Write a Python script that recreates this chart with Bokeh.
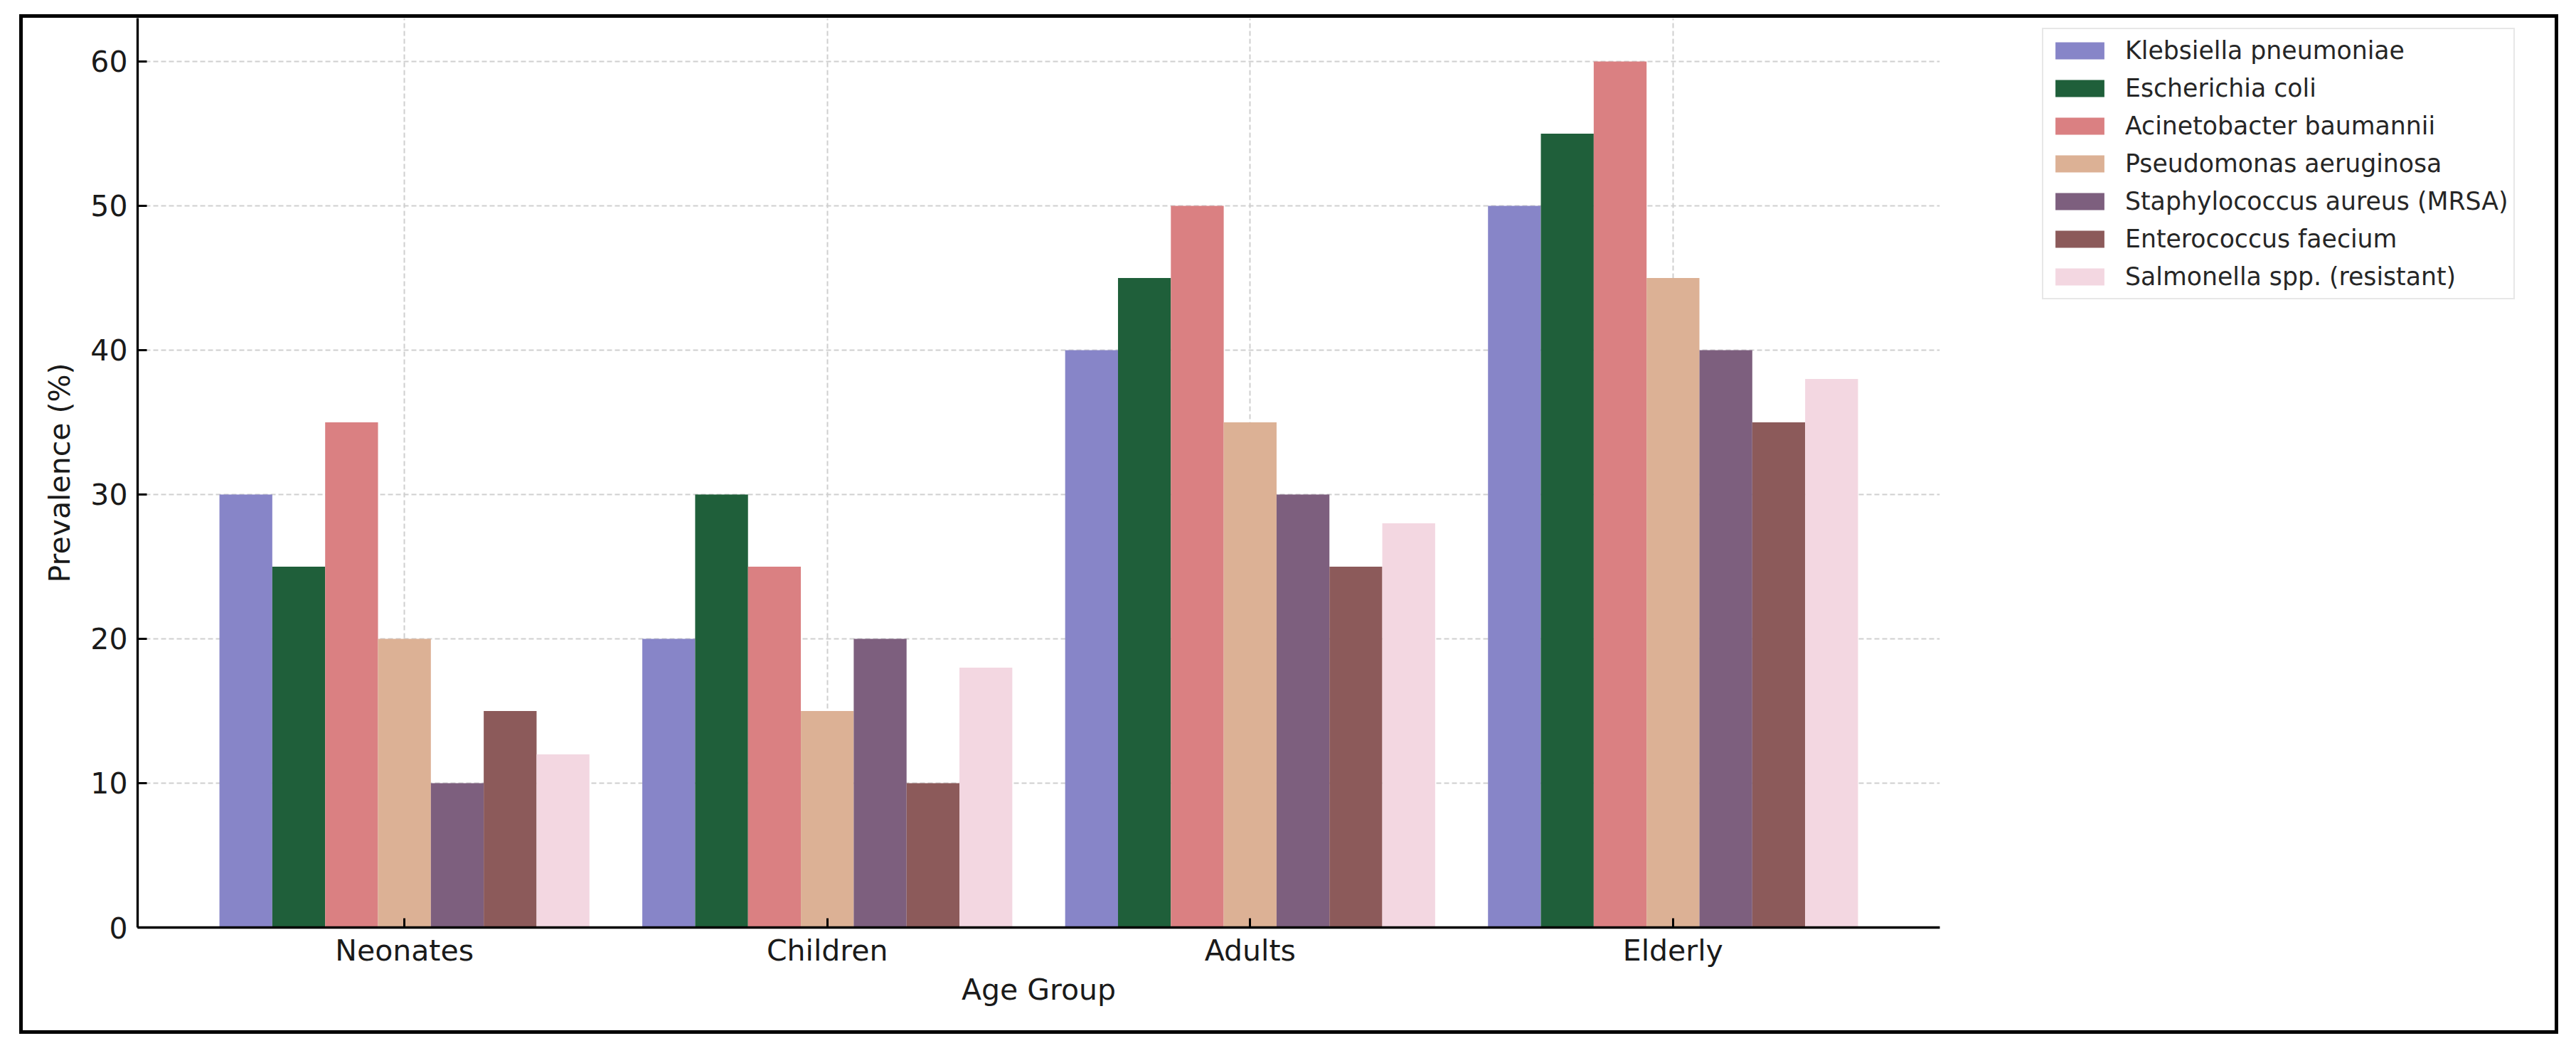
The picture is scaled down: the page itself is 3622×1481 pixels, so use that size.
from bokeh.plotting import figure
from bokeh.models import FactorRange, Range1d, ColumnDataSource, Legend, LegendItem, FixedTicker
from bokeh.transform import dodge
from bokeh.layouts import row
from bokeh.embed import file_html
from bokeh.resources import INLINE

# ---- data ----
age_groups = ["Neonates", "Children", "Adults", "Elderly"]
pathogens = [
    "Klebsiella pneumoniae",
    "Escherichia coli",
    "Acinetobacter baumannii",
    "Pseudomonas aeruginosa",
    "Staphylococcus aureus (MRSA)",
    "Enterococcus faecium",
    "Salmonella spp. (resistant)",
]
klebsiella = [30, 20, 40, 50]
ecoli = [25, 30, 45, 55]
acinetobacter = [35, 25, 50, 60]
pseudomonas = [20, 15, 35, 45]
staph_mrsa = [10, 20, 30, 40]
enterococcus = [15, 10, 25, 35]
salmonella = [12, 18, 28, 38]
y_ticks = [0, 10, 20, 30, 40, 50, 60]

series = [klebsiella, ecoli, acinetobacter, pseudomonas, staph_mrsa, enterococcus, salmonella]
colors = ["#8785c8", "#1f5f3a", "#da8082", "#dcb195", "#7d5f7e", "#8c5a5a", "#f3d7e1"]

FONT = "DejaVu Sans"
bar_width = 0.125

data = {"group": age_groups}
for i, s in enumerate(series):
    data[f"s{i}"] = s
src = ColumnDataSource(data)

x_range = FactorRange(*age_groups, range_padding=0.0655)

# ---- main chart ----
p = figure(
    width=2699, height=1424,
    x_range=x_range,
    y_range=Range1d(0, 63),
    output_backend="svg", toolbar_location=None,
    min_border_left=161, min_border_right=4, min_border_top=0, min_border_bottom=145,
)
p.outline_line_color = None
p.background_fill_color = "white"
p.border_fill_color = "white"

for i, s in enumerate(series):
    p.vbar(
        x=dodge("group", (i - 3) * bar_width, range=x_range),
        top=f"s{i}", width=bar_width, source=src,
        fill_color=colors[i], line_color=None,
    )

for ax in (p.xaxis, p.yaxis):
    ax.axis_line_color = "black"
    ax.axis_line_width = 3.3
    ax.major_tick_line_color = "black"
    ax.major_tick_line_width = 3
    ax.major_tick_in = 13
    ax.major_tick_out = 0
    ax.minor_tick_line_color = None
    ax.major_label_text_font = FONT
    ax.major_label_text_font_size = "41px"
    ax.major_label_text_color = "#1a1a1a"
    ax.axis_label_text_font = FONT
    ax.axis_label_text_font_size = "41px"
    ax.axis_label_text_font_style = "normal"
    ax.axis_label_text_color = "#1a1a1a"

p.xaxis.axis_label = "Age Group"
p.yaxis.axis_label = "Prevalence (%)"
p.yaxis.ticker = FixedTicker(ticks=y_ticks)
p.xaxis.major_label_standoff = 8
p.xaxis.axis_label_standoff = 4
p.yaxis.major_label_standoff = 14
p.yaxis.axis_label_standoff = 16

for g in (p.xgrid, p.ygrid):
    g.grid_line_color = "#cfcfcf"
    g.grid_line_width = 2
    g.grid_line_dash = "7 4"
p.ygrid.ticker = FixedTicker(ticks=y_ticks)

# ---- legend panel (right of the chart) ----
q = figure(
    width=861, height=1424,
    x_range=x_range, y_range=Range1d(0, 63),
    x_axis_location=None, y_axis_location=None,
    output_backend="svg", toolbar_location=None,
    min_border=0, min_border_left=0, min_border_right=0, min_border_top=0, min_border_bottom=0,
)
q.outline_line_color = None
q.background_fill_color = "white"
q.border_fill_color = "white"
q.grid.visible = False

legend_renderers = []
for i, s in enumerate(series):
    r = q.vbar(
        x=dodge("group", (i - 3) * bar_width, range=x_range),
        top=f"s{i}", width=bar_width, source=src,
        fill_color=colors[i], line_color=None, visible=False,
    )
    legend_renderers.append(r)

legend = Legend(
    items=[LegendItem(label=pathogens[i], renderers=[legend_renderers[i]]) for i in range(len(series))],
    location=(140, 883),
    orientation="vertical",
    label_text_font=FONT,
    label_text_font_size="34.7px",
    label_text_color="#262626",
    glyph_width=86, glyph_height=30,
    label_height=44, spacing=9, padding=8, label_standoff=21,
    border_line_color="#d0d0d0", border_line_width=2,
    background_fill_color="white", background_fill_alpha=1.0,
    margin=0,
)
q.add_layout(legend)

layout = row(p, q, styles={"margin-left": "32px", "margin-top": "25px", "outline": "5px solid black"})

open("out.html", "w").write(file_html(layout, INLINE))
